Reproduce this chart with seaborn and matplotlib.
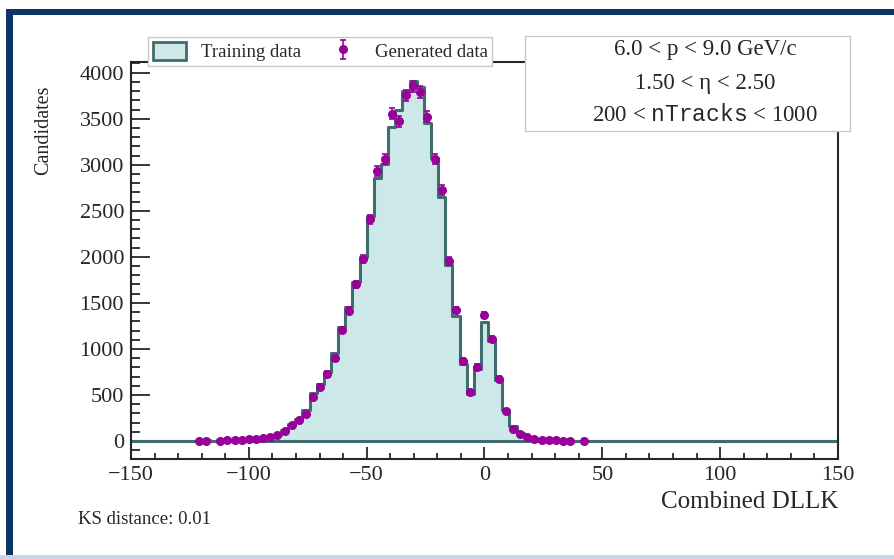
import numpy as np
import pandas as pd
import seaborn as sns
import matplotlib.pyplot as plt
from matplotlib.patches import Patch, Rectangle
from matplotlib.ticker import MultipleLocator

# binning: 99 equal bins in [-150, 150], filled bins start at index 9
x_min, x_max = -150, 150
n_bins = 99
first_bin = 9

# bins 9..63
train_counts = [3, 6, 4, 6, 8, 11, 14, 19, 24, 35, 48, 70, 120, 180, 240, 340,
                518, 619, 753, 959, 1241, 1459, 1730, 2002, 2440, 2860, 3010,
                3410, 3595, 3804, 3910, 3848, 3450, 3070, 2653, 1911, 1357, 836,
                507, 779, 1296, 1086, 662, 337, 160, 85, 45, 22, 13, 9, 6, 4, 3,
                2, 1]
gen_counts = [5, 5, 0, 5, 10, 10, 15, 18, 20, 33, 43, 65, 112, 175, 226, 296,
              481, 590, 731, 905, 1209, 1415, 1702, 1977, 2408, 2935, 3059,
              3554, 3472, 3754, 3852, 3790, 3522, 3059, 2726, 1951, 1423, 869,
              529, 804, 1368, 1111, 677, 326, 127, 79, 40, 20, 12, 8, 6, 4, 3,
              0, 1]

cut_lines = ["6.0 < p < 9.0 GeV/c",
             "1.50 < η < 2.50",
             r"200 < $\mathtt{nTracks}$ < 1000"]
ks_text = "KS distance: 0.01"

W, H = 895, 559
fill_col = "#cde8e8"
edge_col = "#3f6d6d"
gen_col = "#990099"

sns.set_style("ticks")
plt.rcParams["font.family"] = ["Liberation Serif", "DejaVu Serif"]
plt.rcParams["mathtext.fontset"] = "custom"
plt.rcParams["mathtext.tt"] = "Liberation Mono"

edges = np.linspace(x_min, x_max, n_bins + 1)
centers = 0.5 * (edges[1:] + edges[:-1])
train = np.zeros(n_bins)
gen = np.zeros(n_bins)
train[first_bin:first_bin + len(train_counts)] = train_counts
gen[first_bin:first_bin + len(gen_counts)] = gen_counts
df = pd.DataFrame({"x": centers, "train": train, "gen": gen})


def fx(px):
    return px / W


def fy(py):
    return 1 - py / H


fig = plt.figure(figsize=(W / 100, H / 100), dpi=100)
ax = fig.add_axes([fx(131), fy(459), (838 - 131) / W, (459 - 62) / H])

sns.histplot(data=df, x="x", weights="train", bins=n_bins,
             binrange=(x_min, x_max), element="step",
             fill=True, facecolor=fill_col, edgecolor=edge_col, alpha=1,
             linewidth=2.2, ax=ax)

pts = df[df["gen"] > 0]
eb = ax.errorbar(pts["x"], pts["gen"], yerr=np.sqrt(pts["gen"]), fmt="o",
                 color=gen_col, markersize=5.5, capsize=2, elinewidth=1.2,
                 capthick=1.2, zorder=4)

ax.set_xlim(x_min, x_max)
ax.set_ylim(-195, 4116)
ax.xaxis.set_major_locator(MultipleLocator(50))
ax.xaxis.set_minor_locator(MultipleLocator(10))
ax.yaxis.set_major_locator(MultipleLocator(500))
ax.yaxis.set_minor_locator(MultipleLocator(100))
ax.tick_params(which="both", direction="in", top=False, right=False,
               width=1.3, labelsize=16, pad=5)
ax.tick_params(axis="x", which="major", length=8.6)
ax.tick_params(axis="x", which="minor", length=4)
ax.tick_params(axis="y", which="major", length=13.7)
ax.tick_params(axis="y", which="minor", length=6.5)
for s in ax.spines.values():
    s.set_linewidth(1.5)

ax.set_xlabel("Combined DLLK", fontsize=18, loc="right")
ax.xaxis.set_label_coords(1.0, -0.08)
ax.set_ylabel("Candidates", fontsize=14.5, loc="top")
ax.yaxis.set_label_coords(-0.11, 0.94)

handles = [Patch(facecolor=fill_col, edgecolor=edge_col, linewidth=2), eb]
ax.legend(handles, ["Training data", "Generated data"], ncol=2,
          loc="upper left", bbox_to_anchor=(fx(148), fy(37)),
          bbox_transform=fig.transFigure, borderaxespad=0, fontsize=13.5,
          frameon=True, fancybox=False, framealpha=1, edgecolor="#c8c8c8",
          handlelength=1.8, handleheight=1.1, handletextpad=0.8,
          columnspacing=1.3, borderpad=0.25)

# cut summary box
fig.add_artist(Rectangle((fx(525), fy(131)), (850 - 525) / W, (131 - 36) / H,
                         transform=fig.transFigure, facecolor="white",
                         edgecolor="#c8c8c8", linewidth=1, zorder=5))
for line, py in zip(cut_lines, [49, 83, 115]):
    fig.text(fx(705), fy(py), line, ha="center", va="center", fontsize=16.5,
             zorder=6)

fig.text(fx(78), fy(519), ks_text, ha="left", va="center", fontsize=13.5)

# slide frame
fig.add_artist(Rectangle((fx(6), fy(15)), 1, (15 - 9) / H,
                         transform=fig.transFigure, facecolor="#0d3563",
                         edgecolor="none", zorder=7))
fig.add_artist(Rectangle((fx(6), 0), (13 - 6) / W, fy(9),
                         transform=fig.transFigure, facecolor="#0d3563",
                         edgecolor="none", zorder=7))
fig.add_artist(Rectangle((0, 0), 1, 4 / H, transform=fig.transFigure,
                         facecolor="#c9d5e6", edgecolor="none", zorder=7))

fig.savefig("out.png", dpi=100)
